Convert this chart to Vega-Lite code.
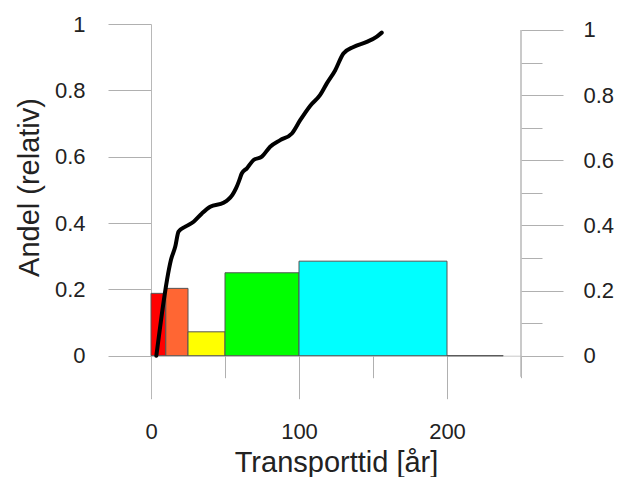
{
  "$schema": "https://vega.github.io/schema/vega-lite/v6.json",
  "autosize": "none",
  "width": 370,
  "height": 374,
  "padding": {"left": 151, "top": 24, "right": 109, "bottom": 79},
  "background": "white",
  "config": {
    "view": {"stroke": null},
    "font": "Liberation Sans",
    "axis": {"labelFont": "Liberation Sans", "titleFont": "Liberation Sans", "labelColor": "#222", "titleColor": "#222", "titleFontWeight": "normal", "grid": false}
  },
  "datasets": {
    "bars": [
      {"x": 0, "x2": 10, "y": 0.188, "klass": "a"},
      {"x": 10, "x2": 25, "y": 0.203, "klass": "b"},
      {"x": 25, "x2": 50, "y": 0.072, "klass": "c"},
      {"x": 50, "x2": 100, "y": 0.25, "klass": "d"},
      {"x": 100, "x2": 200, "y": 0.285, "klass": "e"},
      {"x": 200, "x2": 238, "y": 0, "klass": "f"}
    ],
    "curve": [
      {"x": 3.6, "y": 0},
      {"x": 7.4, "y": 0.128},
      {"x": 10.8, "y": 0.228},
      {"x": 13.5, "y": 0.289},
      {"x": 16.4, "y": 0.329},
      {"x": 18.6, "y": 0.374},
      {"x": 23.2, "y": 0.389},
      {"x": 28.8, "y": 0.404},
      {"x": 34.4, "y": 0.429},
      {"x": 40, "y": 0.449},
      {"x": 49, "y": 0.461},
      {"x": 52, "y": 0.47},
      {"x": 55, "y": 0.485},
      {"x": 57.5, "y": 0.505},
      {"x": 59.5, "y": 0.527},
      {"x": 61.4, "y": 0.55},
      {"x": 64.8, "y": 0.565},
      {"x": 69.3, "y": 0.59},
      {"x": 74.9, "y": 0.6},
      {"x": 80.5, "y": 0.63},
      {"x": 87.3, "y": 0.65},
      {"x": 95.2, "y": 0.67},
      {"x": 100.8, "y": 0.71},
      {"x": 107.5, "y": 0.753},
      {"x": 114.3, "y": 0.786},
      {"x": 118.8, "y": 0.821},
      {"x": 124.4, "y": 0.86},
      {"x": 130, "y": 0.911},
      {"x": 136.8, "y": 0.931},
      {"x": 145.8, "y": 0.946},
      {"x": 152.6, "y": 0.962},
      {"x": 155.9, "y": 0.974}
    ],
    "raxis": [
      {"x": 250, "y": -0.065, "y2": 1}
    ]
  },
  "resolve": {"scale": {"y": "independent"}},
  "layer": [
    {
      "layer": [
        {
          "data": {"name": "bars"},
          "mark": {"type": "rect", "stroke": "#555", "strokeWidth": 1},
          "encoding": {
            "x": {
              "field": "x", "type": "quantitative",
              "scale": {"domain": [0, 250], "nice": false, "zero": false},
              "axis": {
                "title": "Transporttid [år]",
                "titleFontSize": 29,
                "titlePadding": 6,
                "values": [0, 50, 100, 150, 200, 250],
                "offset": -42.3,
                "domain": true,
                "domainColor": "#c8c8c8",
                "tickColor": "#b0b0b0",
                "tickSize": {"condition": {"test": "datum.value % 100 == 0", "value": 43}, "value": 22},
                "labelExpr": "datum.value % 100 == 0 ? '' + datum.value : ''",
                "labelFontSize": 22,
                "labelPadding": 23,
                "labelFlush": false,
                "labelOverlap": false
              }
            },
            "x2": {"field": "x2"},
            "y": {
              "field": "y", "type": "quantitative",
              "scale": {"domain": [-0.1275, 1], "nice": false, "zero": false},
              "axis": {
                "title": "Andel (relativ)",
                "titleFontSize": 29,
                "titleX": -122,
                "titleY": 163,
                "titleAngle": -90,
                "titleAlign": "center",
                "titleBaseline": "middle",
                "values": [0, 0.1, 0.2, 0.3, 0.4, 0.5, 0.6, 0.7, 0.8, 0.9, 1],
                "domain": true,
                "domainColor": "#b8b8b8",
                "tickColor": "#b0b0b0",
                "tickSize": {"condition": {"test": "round(datum.value*10) % 2 == 0", "value": 43}, "value": 21},
                "labelExpr": "round(datum.value*10) % 2 == 0 ? '' + datum.value : ''",
                "labelFontSize": 22,
                "labelPadding": 23,
                "labelOverlap": false,
                "labelFlush": false
              }
            },
            "y2": {"datum": 0},
            "color": {
              "field": "klass", "type": "nominal", "legend": null,
              "scale": {"domain": ["a", "b", "c", "d", "e", "f"], "range": ["#ff0000", "#ff6633", "#ffff00", "#00ff00", "#00ffff", "#ffffff"]}
            }
          }
        },
        {
          "data": {"name": "curve"},
          "mark": {"type": "line", "color": "black", "strokeWidth": 4, "interpolate": "monotone", "strokeCap": "round", "strokeJoin": "round"},
          "encoding": {
            "x": {"field": "x", "type": "quantitative"},
            "y": {"field": "y", "type": "quantitative"}
          }
        }
      ]
    },
    {
      "data": {"name": "raxis"},
      "mark": {"type": "rule", "color": "#b8b8b8", "strokeWidth": 1.5},
      "encoding": {
        "x": {"field": "x", "type": "quantitative"},
        "y": {
          "field": "y", "type": "quantitative",
          "scale": {"domain": [-0.1299, 1.0184], "nice": false, "zero": false},
          "axis": {
            "orient": "right",
            "title": null,
            "values": [0, 0.1, 0.2, 0.3, 0.4, 0.5, 0.6, 0.7, 0.8, 0.9, 1],
            "domain": false,
            "tickColor": "#b0b0b0",
            "tickSize": {"condition": {"test": "round(datum.value*10) % 2 == 0", "value": 42}, "value": 21},
            "labelExpr": "round(datum.value*10) % 2 == 0 ? '' + datum.value : ''",
            "labelFontSize": 22,
            "labelPadding": 20,
            "labelOverlap": false,
            "labelFlush": false
          }
        },
        "y2": {"field": "y2"}
      }
    }
  ]
}
